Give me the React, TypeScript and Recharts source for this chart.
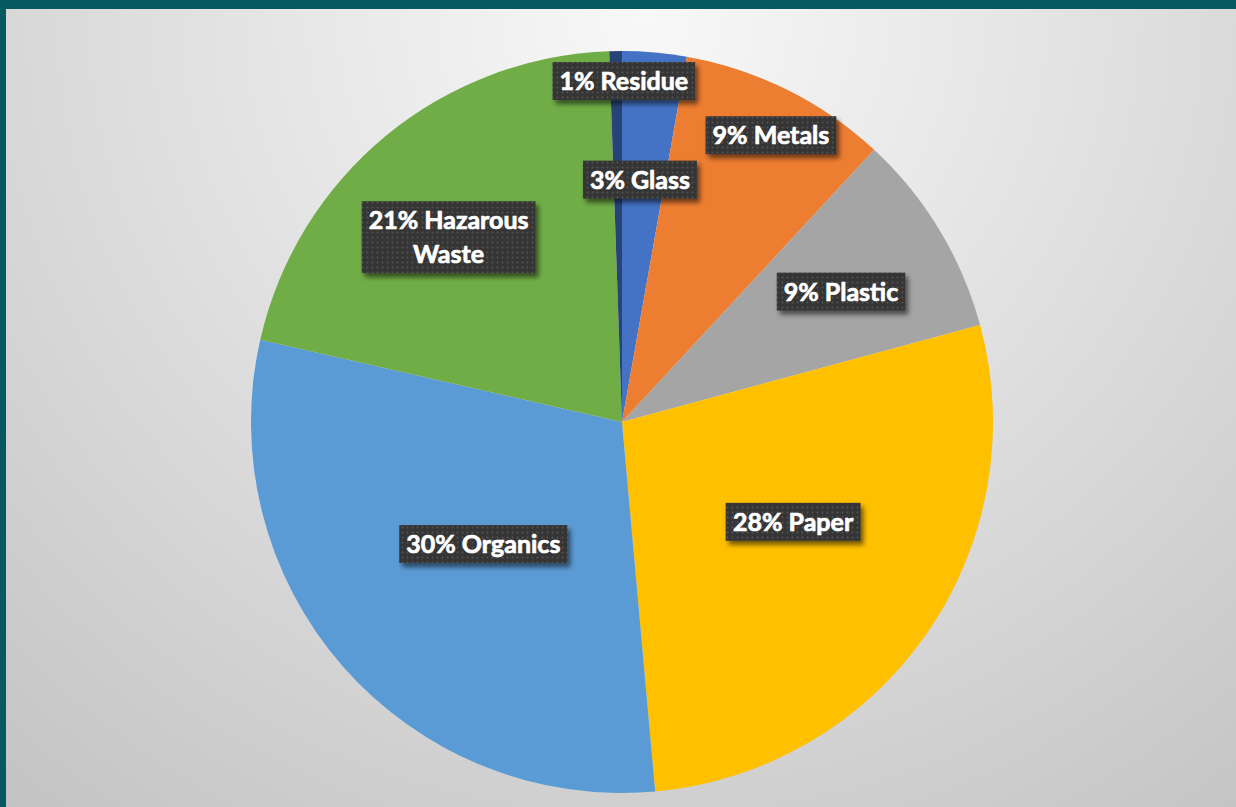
import { useLayoutEffect, useRef, useState } from 'react'
import { PieChart, Pie, Cell } from 'recharts'

// clockwise from 12 o'clock (shares in %, labels show them rounded)
const categories = ['Glass', 'Metals', 'Plastic', 'Paper', 'Organics', 'Hazarous Waste', 'Residue']
const shares = [2.8, 9.1, 8.9, 27.8, 30.0, 20.9, 0.55]
const sliceColors = ['#4472C4', '#ED7D31', '#A5A5A5', '#FFC000', '#5B9BD5', '#70AD47', '#264478']

const data = categories.map((name, i) => ({ name, value: shares[i] }))

// where each label box sits: fraction of the radius, and a small clockwise nudge (deg)
const labelSpots = [
  { r: 0.655, turn: -0.8 },
  { r: 0.871, turn: 1.0 },
  { r: 0.687, turn: 0.4 },
  { r: 0.534, turn: -4.6 },
  { r: 0.498, turn: -0.2 },
  { r: 0.683, turn: -3.6 },
  { r: 0.919, turn: 1.3 },
]

const RADIAN = Math.PI / 180
const FONT = 'Lato, "Open Sans", sans-serif'
const LINE_H = 34

function SliceLabel(props: any) {
  const { cx, cy, midAngle, outerRadius, index, name, percent } = props
  const textRef = useRef<SVGTextElement>(null)
  const [w, setW] = useState(120)

  useLayoutEffect(() => {
    if (textRef.current) setW(textRef.current.getBBox().width)
  }, [name, percent])

  const spot = labelSpots[index]
  const angle = midAngle - spot.turn
  const r = outerRadius * spot.r
  const x = cx + r * Math.cos(-angle * RADIAN)
  const y = cy + r * Math.sin(-angle * RADIAN)

  const pct = Math.round(percent * 100)
  const words = String(name).split(' ')
  const lines =
    words.length > 1
      ? [`${pct}% ${words[0]}`, words.slice(1).join(' ')]
      : [`${pct}% ${name}`]

  const boxW = w + 14
  const boxH = lines.length * LINE_H + 4
  const firstBase = y - ((lines.length - 1) * LINE_H) / 2 + 9

  return (
    <g>
      <rect
        x={x - boxW / 2}
        y={y - boxH / 2}
        width={boxW}
        height={boxH}
        fill="url(#labelDots)"
        filter="url(#labelShadow)"
      />
      <text
        ref={textRef}
        x={x}
        y={firstBase}
        textAnchor="middle"
        fill="#ffffff"
        stroke="#ffffff"
        strokeWidth={0.7}
        fontFamily={FONT}
        fontWeight={700}
        fontSize={25}
      >
        {lines.map((line, i) => (
          <tspan key={i} x={x} y={firstBase + i * LINE_H}>
            {line}
          </tspan>
        ))}
      </text>
    </g>
  )
}

export default function App() {
  return (
    <div
      style={{
        position: 'fixed',
        left: 0,
        top: 0,
        width: 1236,
        height: 807,
        background: '#065A5F',
        overflow: 'hidden',
      }}
    >
      <div
        style={{
          position: 'absolute',
          left: 6,
          top: 9,
          width: 1230,
          height: 798,
          background:
            'radial-gradient(circle farthest-corner at 52% 1%, #f8f8f8 0%, #e9e9e9 30%, #d8d8d8 62%, #c3c3c3 100%)',
        }}
      />
      <div style={{ position: 'absolute', left: 0, top: 0 }}>
        <PieChart width={1236} height={807} margin={{ top: 0, right: 0, bottom: 0, left: 0 }}>
          <defs>
            <pattern id="labelDots" width={5} height={5} patternUnits="userSpaceOnUse">
              <rect width={5} height={5} fill="#363636" />
              <circle cx={2.5} cy={2.5} r={0.9} fill="#555555" />
            </pattern>
            <filter id="labelShadow" x="-20%" y="-30%" width="140%" height="170%">
              <feDropShadow dx={3} dy={4} stdDeviation={2.5} floodColor="#000" floodOpacity={0.55} />
            </filter>
          </defs>
          <Pie
            data={data}
            dataKey="value"
            nameKey="name"
            cx={622}
            cy={422}
            outerRadius={371}
            startAngle={90}
            endAngle={-270}
            stroke="none"
            labelLine={false}
            label={(p: any) => <SliceLabel {...p} />}
            isAnimationActive={false}
          >
            {data.map((d, i) => (
              <Cell key={d.name} fill={sliceColors[i]} />
            ))}
          </Pie>
        </PieChart>
      </div>
    </div>
  )
}
